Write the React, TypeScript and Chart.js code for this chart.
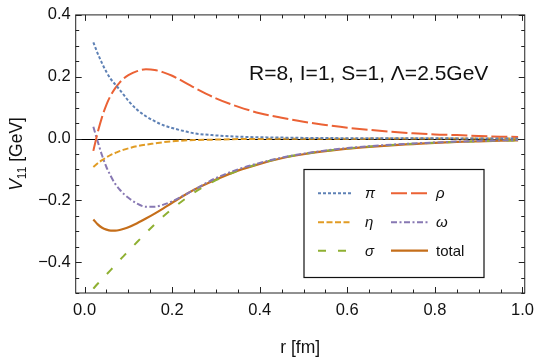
import { useEffect, useRef } from "react";
import { Chart, registerables } from "chart.js";

Chart.register(...registerables);

// Radial distance r [fm]
const rValues = [
  0.02, 0.03, 0.04, 0.05, 0.06, 0.07, 0.08, 0.09, 0.10, 0.12, 0.14, 0.16, 0.18, 0.20,
  0.25, 0.30, 0.35, 0.40, 0.45, 0.50, 0.55, 0.60, 0.65, 0.70, 0.75, 0.80, 0.85, 0.90,
  0.95, 0.99,
];

// Potential contributions V11 [GeV]
const piValues = [
  0.311, 0.275, 0.243, 0.215, 0.192, 0.175, 0.158, 0.14, 0.122, 0.093, 0.072, 0.056, 0.043, 0.034,
  0.017, 0.010, 0.006, 0.004, 0.003, 0.002, 0.0015, 0.001, 0.001, 0.0008, 0.0006, 0.0005, 0.0004, 0.0003,
  0.0003, 0.0002,
];
const rhoValues = [
  -0.04, 0.02, 0.07, 0.11, 0.14, 0.163, 0.181, 0.195, 0.205, 0.218, 0.224, 0.222, 0.214, 0.203,
  0.165, 0.130, 0.103, 0.082, 0.067, 0.054, 0.044, 0.035, 0.028, 0.022, 0.017, 0.013, 0.011, 0.008,
  0.006, 0.005,
];
const etaValues = [
  -0.092, -0.08, -0.07, -0.061, -0.053, -0.047, -0.041, -0.036, -0.032, -0.025, -0.02, -0.016, -0.012, -0.009,
  -0.005, -0.0035, -0.002, -0.0015, -0.001, -0.0008, -0.0006, -0.0005, -0.0004, -0.0003, -0.0003, -0.0002, -0.0002, -0.0002,
  -0.0001, -0.0001,
];
const omegaValues = [
  0.038, -0.01, -0.055, -0.093, -0.122, -0.147, -0.165, -0.18, -0.192, -0.211, -0.221, -0.221, -0.214, -0.203,
  -0.166, -0.128, -0.100, -0.079, -0.062, -0.049, -0.039, -0.031, -0.025, -0.020, -0.016, -0.013, -0.010, -0.008,
  -0.006, -0.005,
];
const sigmaValues = [
  -0.486, -0.47, -0.455, -0.44, -0.425, -0.41, -0.394, -0.379, -0.364, -0.335, -0.306, -0.278, -0.252, -0.228,
  -0.175, -0.135, -0.104, -0.081, -0.063, -0.050, -0.040, -0.032, -0.026, -0.021, -0.017, -0.014, -0.011, -0.009,
  -0.007, -0.006,
];
const totalValues = [
  -0.262, -0.278, -0.289, -0.295, -0.298, -0.298, -0.296, -0.292, -0.287, -0.274, -0.259, -0.243, -0.226, -0.208,
  -0.166, -0.133, -0.104, -0.082, -0.064, -0.051, -0.041, -0.033, -0.027, -0.022, -0.018, -0.014, -0.011, -0.009,
  -0.007, -0.006,
];

const xTickValues = [0, 0.2, 0.4, 0.6, 0.8, 1.0];
const yTickValues = [-0.4, -0.2, 0, 0.2, 0.4];
const annotationText = "R=8, I=1, S=1, \u039B=2.5GeV";

const FONT = "'Liberation Sans', Arial, Helvetica, sans-serif";

type Series = {
  label: string;
  italic: boolean;
  values: number[];
  color: string;
  dash: number[];
  width: number;
};

const series: Series[] = [
  { label: "\u03C0", italic: true, values: piValues, color: "#5E81B5", dash: [3, 2], width: 2 },
  { label: "\u03C1", italic: true, values: rhoValues, color: "#EB6235", dash: [16, 4], width: 2 },
  { label: "\u03B7", italic: true, values: etaValues, color: "#E19C24", dash: [6, 2.5], width: 2 },
  { label: "\u03C9", italic: true, values: omegaValues, color: "#8778B3", dash: [6, 2.5, 2, 2.5], width: 2 },
  { label: "\u03C3", italic: true, values: sigmaValues, color: "#8FB032", dash: [8, 12], width: 2 },
  { label: "total", italic: false, values: totalValues, color: "#C56E1A", dash: [], width: 2.2 },
];

const fmt = (v: number) => {
  const s = Math.abs(v).toFixed(1);
  return v < -1e-9 ? "\u2212" + s : s;
};

const decorPlugin = {
  id: "decor",
  beforeDatasetsDraw(chart: any) {
    const { ctx, chartArea: a, scales } = chart;
    const y0 = scales.y.getPixelForValue(0);
    ctx.save();
    ctx.strokeStyle = "#000";
    ctx.lineWidth = 1;
    ctx.beginPath();
    ctx.moveTo(a.left, Math.round(y0) + 0.5);
    ctx.lineTo(a.right, Math.round(y0) + 0.5);
    ctx.stroke();
    ctx.restore();
  },
  afterDatasetsDraw(chart: any) {
    const { ctx, chartArea: a, scales } = chart;
    const xs = scales.x;
    const ys = scales.y;
    ctx.save();

    // frame
    ctx.strokeStyle = "#222";
    ctx.lineWidth = 1;
    ctx.strokeRect(a.left, a.top, a.right - a.left, a.bottom - a.top);

    // inward ticks on all four sides
    ctx.beginPath();
    for (let k = 0; k <= 20; k++) {
      const v = k * 0.05;
      const major = k % 4 === 0;
      const len = major ? 6 : 3.5;
      const px = Math.round(xs.getPixelForValue(v)) + 0.5;
      ctx.moveTo(px, a.bottom);
      ctx.lineTo(px, a.bottom - len);
      ctx.moveTo(px, a.top);
      ctx.lineTo(px, a.top + len);
    }
    for (let k = -10; k <= 8; k++) {
      const v = k * 0.05;
      const major = k % 4 === 0;
      const len = major ? 6 : 3.5;
      const py = Math.round(ys.getPixelForValue(v)) + 0.5;
      ctx.moveTo(a.left, py);
      ctx.lineTo(a.left + len, py);
      ctx.moveTo(a.right, py);
      ctx.lineTo(a.right - len, py);
    }
    ctx.stroke();

    // annotation
    ctx.fillStyle = "#111";
    ctx.font = `21px ${FONT}`;
    ctx.textAlign = "left";
    ctx.textBaseline = "alphabetic";
    ctx.fillText(annotationText, 249, 80);

    // legend box
    const bx = 304, by = 169.5, bw = 180, bh = 108;
    ctx.fillStyle = "#fff";
    ctx.fillRect(bx, by, bw, bh);
    ctx.strokeStyle = "#111";
    ctx.lineWidth = 1.2;
    ctx.strokeRect(bx, by, bw, bh);

    const rows = [193.3, 222.3, 250.7];
    const cols = [
      { x0: 318, x1: 352, tx: 365 },
      { x0: 391, x1: 428, tx: 436 },
    ];
    series.forEach((s, i) => {
      const c = cols[i % 2];
      const ry = rows[Math.floor(i / 2)];
      ctx.strokeStyle = s.color;
      ctx.lineWidth = s.width;
      ctx.setLineDash(s.dash);
      ctx.beginPath();
      ctx.moveTo(c.x0, ry);
      ctx.lineTo(c.x1, ry);
      ctx.stroke();
      ctx.setLineDash([]);
      ctx.fillStyle = "#111";
      ctx.font = `${s.italic ? "italic " : ""}15px ${FONT}`;
      ctx.textBaseline = "middle";
      ctx.fillText(s.label, c.tx, ry + 1);
    });

    // x-axis title
    ctx.fillStyle = "#111";
    ctx.font = `17.5px ${FONT}`;
    ctx.textAlign = "center";
    ctx.textBaseline = "middle";
    ctx.fillText("r [fm]", (a.left + a.right) / 2, 348);

    // y-axis title with subscript
    const cy = (a.top + a.bottom) / 2;
    ctx.translate(16, cy);
    ctx.rotate(-Math.PI / 2);
    ctx.textAlign = "left";
    ctx.textBaseline = "alphabetic";
    const mainFont = `17.5px ${FONT}`;
    const itFont = `italic 17.5px ${FONT}`;
    const subFont = `12px ${FONT}`;
    ctx.font = itFont;
    const wV = ctx.measureText("V").width;
    ctx.font = subFont;
    const wSub = ctx.measureText("11").width;
    ctx.font = mainFont;
    const wRest = ctx.measureText(" [GeV]").width;
    const total = wV + wSub + wRest;
    let tx = -total / 2;
    const base = 6;
    ctx.font = itFont;
    ctx.fillText("V", tx, base);
    tx += wV;
    ctx.font = subFont;
    ctx.fillText("11", tx, base + 4);
    tx += wSub;
    ctx.font = mainFont;
    ctx.fillText(" [GeV]", tx, base);

    ctx.restore();
  },
};

export default function App() {
  const canvasRef = useRef<HTMLCanvasElement | null>(null);

  useEffect(() => {
    document.body.style.margin = "0";
    const canvas = canvasRef.current;
    if (!canvas) return;

    const chart = new Chart(canvas, {
      type: "line",
      data: {
        datasets: series.map((s) => ({
          label: s.label,
          data: rValues.map((r, i) => ({ x: r, y: s.values[i] })),
          borderColor: s.color,
          backgroundColor: s.color,
          borderWidth: s.width,
          borderDash: s.dash,
          pointRadius: 0,
          fill: false,
          cubicInterpolationMode: "monotone" as const,
        })),
      },
      options: {
        responsive: false,
        animation: false,
        devicePixelRatio: 1,
        layout: { padding: { left: 0, top: 12.3, right: 12, bottom: 0 } },
        plugins: {
          legend: { display: false },
          tooltip: { enabled: false },
          title: { display: false },
        },
        scales: {
          x: {
            type: "linear",
            min: -0.0203,
            max: 1.0052,
            grid: { display: false, drawTicks: false },
            border: { display: false },
            afterBuildTicks: (scale: any) => {
              scale.ticks = xTickValues.map((v) => ({ value: v }));
            },
            afterFit: (scale: any) => {
              scale.height = 68;
            },
            ticks: {
              color: "#111",
              padding: 8,
              maxRotation: 0,
              autoSkip: false,
              font: { family: FONT, size: 16.5 },
              callback: (v: any) => fmt(Number(v)),
            },
          },
          y: {
            type: "linear",
            min: -0.5,
            max: 0.4,
            grid: { display: false, drawTicks: false },
            border: { display: false },
            afterBuildTicks: (scale: any) => {
              scale.ticks = yTickValues.map((v) => ({ value: v }));
            },
            afterFit: (scale: any) => {
              scale.width = 75.7;
            },
            ticks: {
              color: "#111",
              padding: 5,
              autoSkip: false,
              font: { family: FONT, size: 16.5 },
              callback: (v: any) => fmt(Number(v)),
            },
          },
        },
      },
      plugins: [decorPlugin],
    });

    return () => chart.destroy();
  }, []);

  return (
    <div style={{ width: 542, height: 361, background: "#fff" }}>
      <canvas ref={canvasRef} width={542} height={361} style={{ display: "block" }} />
    </div>
  );
}
